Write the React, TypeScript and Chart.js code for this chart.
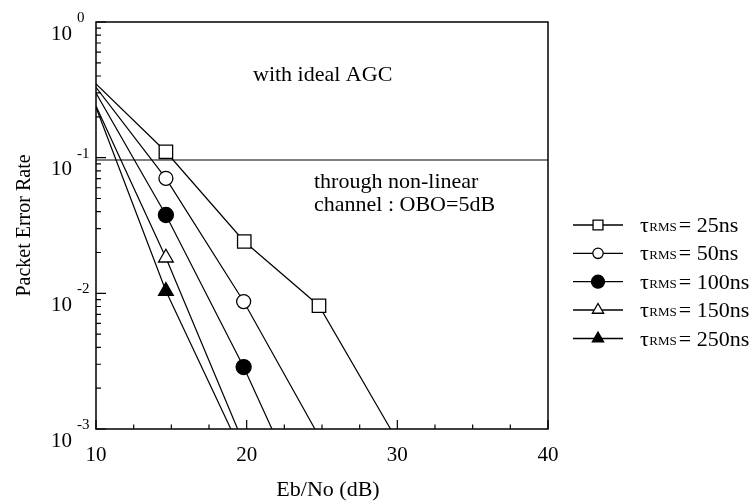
import { useEffect, useRef } from 'react';
import { Chart, registerables } from 'chart.js';
Chart.register(...registerables);

// ---- data ----
const seriesLabels = ['25ns', '50ns', '100ns', '150ns', '250ns'];
const ebno25 = [10, 14.64, 19.84, 24.8, 29.55];
const per25 = [0.35, 0.1105, 0.0241, 0.0081, 0.001];
const ebno50 = [10, 14.64, 19.8, 24.53];
const per50 = [0.33, 0.0704, 0.0087, 0.001];
const ebno100 = [10, 14.64, 19.8, 21.68];
const per100 = [0.3, 0.0378, 0.00286, 0.001];
const ebno150 = [10, 14.64, 19.4];
const per150 = [0.24, 0.0183, 0.001];
const ebno250 = [10, 14.64, 18.95];
const per250 = [0.235, 0.0104, 0.001];
const agcLevelX = [10, 40];
const agcLevelY = [0.096, 0.096];
const xTicks = [10, 20, 30, 40];
const yExponents = [0, -1, -2, -3];

const FONT = '"Liberation Serif", "Times New Roman", serif';

type Style = 'rect' | 'circle' | 'triangle';
const markerStyles: Style[] = ['rect', 'circle', 'circle', 'triangle', 'triangle'];
const markerFilled = [false, false, true, false, true];
const markerRadius = [9.5, 7, 7.5, 8.5, 8.5];
const legendRadius = [7, 5.2, 6.5, 6.5, 6.5];

function drawMarker(ctx: CanvasRenderingContext2D, style: Style, x: number, y: number, r: number, filled: boolean) {
  ctx.save();
  ctx.beginPath();
  if (style === 'rect') {
    const s = Math.SQRT1_2 * r;
    ctx.rect(x - s, y - s, 2 * s, 2 * s);
  } else if (style === 'circle') {
    ctx.arc(x, y, r, 0, Math.PI * 2);
  } else {
    for (let i = 0; i < 3; i++) {
      const a = (i * 2 * Math.PI) / 3;
      const px = x + Math.sin(a) * r;
      const py = y - Math.cos(a) * r;
      if (i === 0) ctx.moveTo(px, py);
      else ctx.lineTo(px, py);
    }
    ctx.closePath();
  }
  ctx.fillStyle = filled ? '#000' : '#fff';
  ctx.fill();
  ctx.lineWidth = 1.3;
  ctx.strokeStyle = '#000';
  ctx.stroke();
  ctx.restore();
}

const framePlugin = {
  id: 'frame',
  afterDraw(chart: any) {
    const ctx: CanvasRenderingContext2D = chart.ctx;
    const { left, right, top, bottom } = chart.chartArea;
    const xs = chart.scales.x;
    const ys = chart.scales.y;
    ctx.save();
    ctx.strokeStyle = '#000';
    ctx.lineWidth = 1.5;
    ctx.strokeRect(left, top, right - left, bottom - top);

    // y ticks (inside)
    ctx.lineWidth = 1.2;
    ctx.beginPath();
    for (const e of yExponents) {
      const yv = ys.getPixelForValue(Math.pow(10, e));
      ctx.moveTo(left, yv);
      ctx.lineTo(left + 10, yv);
    }
    for (let e = -3; e < 0; e++) {
      for (let m = 2; m <= 9; m++) {
        const yv = ys.getPixelForValue(m * Math.pow(10, e));
        ctx.moveTo(left, yv);
        ctx.lineTo(left + 5, yv);
      }
    }
    // x ticks (inside)
    for (let v = 10; v <= 40.001; v += 2.5) {
      const xv = xs.getPixelForValue(v);
      const len = Math.abs(v % 10) < 1e-6 ? 9 : 4.5;
      ctx.moveTo(xv, bottom);
      ctx.lineTo(xv, bottom - len);
    }
    ctx.stroke();

    ctx.fillStyle = '#000';
    // y tick labels: 10 with superscript
    for (const e of yExponents) {
      const yv = ys.getPixelForValue(Math.pow(10, e));
      ctx.font = `21px ${FONT}`;
      ctx.textAlign = 'right';
      ctx.textBaseline = 'middle';
      ctx.fillText('10', 72, yv + 12);
      ctx.font = `15px ${FONT}`;
      ctx.textAlign = 'left';
      ctx.fillText(String(e), 77, yv - 4);
    }
    // x tick labels
    ctx.font = `21px ${FONT}`;
    ctx.textAlign = 'center';
    ctx.textBaseline = 'middle';
    for (const v of xTicks) {
      ctx.fillText(String(v), xs.getPixelForValue(v), bottom + 26);
    }
    // axis titles
    ctx.font = `22px ${FONT}`;
    ctx.fillText('Eb/No (dB)', 328, 490);
    ctx.font = `20px ${FONT}`;
    ctx.save();
    ctx.translate(25, (top + bottom) / 2);
    ctx.rotate(-Math.PI / 2);
    ctx.fillText('Packet Error Rate', 0, 0);
    ctx.restore();

    // annotations
    ctx.font = `22px ${FONT}`;
    ctx.textAlign = 'left';
    ctx.fillText('with ideal AGC', 253, 75);
    ctx.fillText('through non-linear', 314, 182);
    ctx.fillText('channel : OBO=5dB', 314, 205);

    // legend
    const rowY = [225, 253.3, 281.7, 310, 338.5];
    seriesLabels.forEach((lab, i) => {
      const y = rowY[i];
      ctx.beginPath();
      ctx.lineWidth = 1.3;
      ctx.moveTo(573, y);
      ctx.lineTo(623, y);
      ctx.stroke();
      drawMarker(ctx, markerStyles[i], 598, y, legendRadius[i], markerFilled[i]);
      ctx.textAlign = 'left';
      ctx.textBaseline = 'alphabetic';
      const base = y + 7;
      let x = 640;
      ctx.font = `22px ${FONT}`;
      ctx.fillText('τ', x, base);
      x += ctx.measureText('τ').width + 0.5;
      ctx.font = `13px ${FONT}`;
      ctx.fillText('RMS', x, base - 1);
      x += ctx.measureText('RMS').width + 2;
      ctx.font = `22px ${FONT}`;
      ctx.fillText('= ' + lab, x, base);
    });
    ctx.restore();
  },
};

export default function App() {
  const ref = useRef<HTMLCanvasElement>(null);
  useEffect(() => {
    const canvas = ref.current!;
    const pts = (xs: number[], ys: number[]) => xs.map((x, i) => ({ x, y: ys[i] }));
    const radii = (n: number, r: number) => Array.from({ length: n }, (_, i) => (i === 0 || i === n - 1 ? 0 : r));
    const xsAll = [ebno25, ebno50, ebno100, ebno150, ebno250];
    const ysAll = [per25, per50, per100, per150, per250];
    const datasets: any[] = xsAll.map((xs, i) => ({
      label: seriesLabels[i],
      data: pts(xs, ysAll[i]),
      borderColor: '#000',
      borderWidth: 1.2,
      pointStyle: markerStyles[i],
      pointRadius: radii(xs.length, markerRadius[i]),
      pointBackgroundColor: markerFilled[i] ? '#000' : '#fff',
      pointBorderColor: '#000',
      pointBorderWidth: 1.3,
      fill: false,
      tension: 0,
      order: 1,
    }));
    datasets.push({
      label: 'AGC',
      data: pts(agcLevelX, agcLevelY),
      borderColor: '#808080',
      borderWidth: 2,
      pointRadius: 0,
      fill: false,
      order: 2,
    });
    const chart = new Chart(canvas, {
      type: 'line',
      data: { datasets },
      options: {
        responsive: false,
        animation: false,
        devicePixelRatio: 1,
        events: [],
        layout: { padding: { left: 96, right: 208, top: 22, bottom: 74 } },
        plugins: { legend: { display: false }, tooltip: { enabled: false } },
        scales: {
          x: { type: 'linear', min: 10, max: 40, display: false },
          y: { type: 'logarithmic', min: 0.001, max: 1, display: false },
        },
      },
      plugins: [framePlugin],
    });
    return () => chart.destroy();
  }, []);
  return (
    <div style={{ position: 'fixed', left: 0, top: 0, width: 756, height: 503, background: '#fff' }}>
      <canvas ref={ref} width={756} height={503} style={{ display: 'block', width: 756, height: 503 }} />
    </div>
  );
}
